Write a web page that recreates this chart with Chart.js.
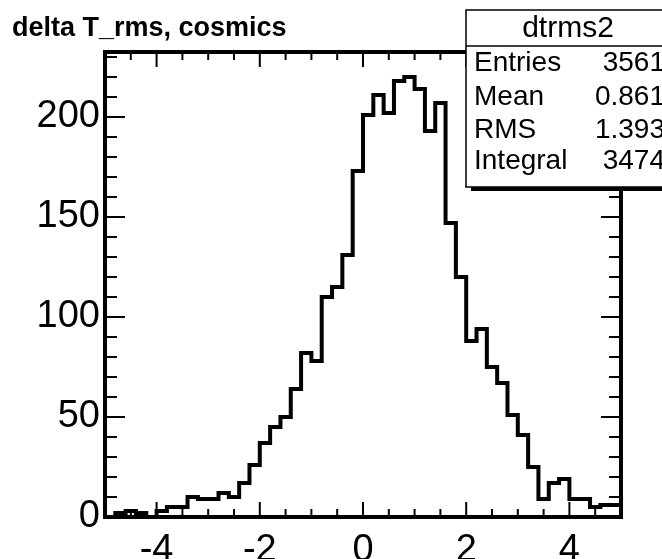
<!DOCTYPE html>
<html>
<head>
<meta charset="utf-8">
<script src="https://cdn.jsdelivr.net/npm/chart.js@4.4.0/dist/chart.umd.min.js"></script>
<style>
  html, body { margin: 0; padding: 0; background: #fff; }
  #wrap { width: 662px; height: 559px; }
</style>
</head>
<body>
<div id="wrap"><canvas id="myChart" width="662" height="559"></canvas></div>
<script>
// Histogram data (50 bins from -5 to 5)
var histTitle = 'delta T_rms, cosmics';
var histName = 'dtrms2';
var xMin = -5, xMax = 5;
var counts = [
    1, 0, 2, 3, 2, 0, 3, 5, 5, 10,
    9, 9, 12, 10, 17, 26, 37, 45, 50, 64,
    82, 78, 110, 115, 131, 173, 201, 211, 202, 218,
    220, 214, 193, 207, 147, 120, 88, 94, 75, 67,
    51, 41, 25, 9, 17, 19, 9, 9, 5, 6
];
var xTickValues = [-4, -2, 0, 2, 4];
var yTickValues = [0, 50, 100, 150, 200];
var yMax = 232.5;
var statLabels = ['Entries', 'Mean', 'RMS', 'Integral'];
var statValues = ['3561', '0.861', '1.393', '3474'];

var FONT = "'Liberation Sans', Arial, Helvetica, sans-serif";

// bin edges -> step outline points
var binWidth = (xMax - xMin) / counts.length;
var points = counts.map((c, i) => ({ x: xMin + i * binWidth, y: c }));
points.push({ x: xMax, y: counts[counts.length - 1] });

// ROOT-like frame with inward ticks, plus the stats box
var rootFrame = {
    id: 'rootFrame',
    afterDatasetsDraw(chart) {
        var ctx = chart.ctx, a = chart.chartArea;
        var xs = chart.scales.x, ys = chart.scales.y;
        ctx.save();
        ctx.strokeStyle = '#000';
        ctx.lineWidth = 2;
        ctx.beginPath();
        for (var v = xMin + 0.5; v < xMax; v += 0.5) {
            var px = xs.getPixelForValue(v);
            var len = xTickValues.indexOf(v) >= 0 ? 15 : 8;
            ctx.moveTo(px, a.bottom); ctx.lineTo(px, a.bottom - len);
            ctx.moveTo(px, a.top); ctx.lineTo(px, a.top + len);
        }
        for (var w = 10; w < yMax; w += 10) {
            var py = ys.getPixelForValue(w);
            var l2 = yTickValues.indexOf(w) >= 0 ? 20 : 12;
            ctx.moveTo(a.left, py); ctx.lineTo(a.left + l2, py);
            ctx.moveTo(a.right, py); ctx.lineTo(a.right - l2, py);
        }
        ctx.stroke();
        ctx.lineWidth = 4;
        ctx.strokeRect(a.left, a.top, a.right - a.left, a.bottom - a.top);
        ctx.restore();
    },
    afterDraw(chart) {
        var ctx = chart.ctx;
        ctx.save();
        // shadow
        ctx.fillStyle = '#000';
        ctx.fillRect(471, 187, 200, 4);
        // box
        ctx.fillStyle = '#fff';
        ctx.fillRect(466, 10, 210, 177);
        ctx.strokeStyle = '#000';
        ctx.lineWidth = 1.5;
        ctx.strokeRect(466, 10, 210, 177);
        ctx.beginPath();
        ctx.moveTo(466, 46); ctx.lineTo(676, 46);
        ctx.stroke();
        ctx.fillStyle = '#000';
        ctx.textBaseline = 'middle';
        ctx.textAlign = 'center';
        ctx.font = '30px ' + FONT;
        ctx.fillText(histName, 568, 29);
        ctx.font = '28px ' + FONT;
        var rowY = [63, 97, 130, 161];
        statLabels.forEach(function (lab, i) {
            ctx.textAlign = 'left';
            ctx.fillText(lab, 474, rowY[i]);
            ctx.textAlign = 'right';
            ctx.fillText(statValues[i], 665, rowY[i]);
        });
        ctx.restore();
    }
};

var ctx = document.getElementById('myChart').getContext('2d');
var myChart = new Chart(ctx, {
    type: 'line',
    data: {
        datasets: [{
            label: histName,
            data: points,
            stepped: 'after',
            borderColor: '#000',
            borderWidth: 4,
            pointRadius: 0,
            fill: false
        }]
    },
    options: {
        responsive: false,
        animation: false,
        layout: { padding: { left: 12, right: 41, top: 0, bottom: 0 } },
        plugins: {
            legend: { display: false },
            tooltip: { enabled: false },
            title: {
                display: true,
                text: histTitle,
                align: 'start',
                color: '#000',
                font: { family: FONT, size: 27, weight: 'bold' },
                padding: { top: 12, bottom: 7.6 }
            }
        },
        scales: {
            x: {
                type: 'linear',
                min: xMin,
                max: xMax,
                grid: { display: false, drawTicks: false },
                border: { display: false },
                ticks: {
                    color: '#000',
                    font: { family: FONT, size: 38 },
                    padding: 11,
                    maxRotation: 0
                },
                afterBuildTicks: function (s) { s.ticks = xTickValues.map(v => ({ value: v })); },
                afterFit: function (s) { s.height = 42; }
            },
            y: {
                min: 0,
                max: yMax,
                grid: { display: false, drawTicks: false },
                border: { display: false },
                ticks: {
                    color: '#000',
                    font: { family: FONT, size: 38 },
                    padding: 5
                },
                afterBuildTicks: function (s) { s.ticks = yTickValues.map(v => ({ value: v })); },
                afterFit: function (s) { s.width = 93; }
            }
        }
    },
    plugins: [rootFrame]
});
</script>
</body>
</html>
